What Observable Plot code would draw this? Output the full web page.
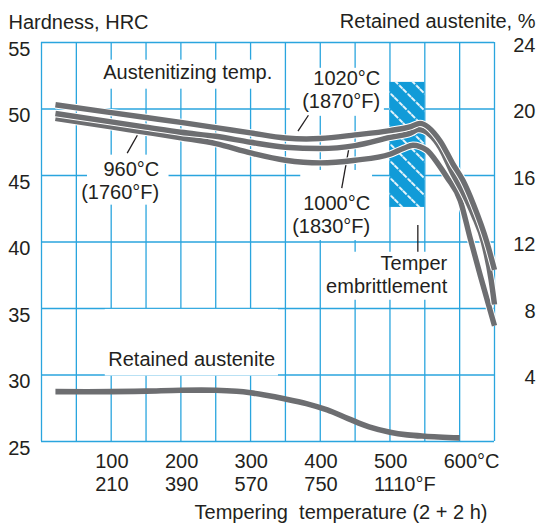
<!DOCTYPE html>
<html><head><meta charset="utf-8">
<script src="https://cdn.jsdelivr.net/npm/d3@7"></script>
<script src="https://cdn.jsdelivr.net/npm/@observablehq/plot@0.6"></script>
<style>html,body{margin:0;padding:0;background:#fff} svg{display:block}</style>
</head><body><div id="chart"></div>
<script>
// ---- data (temperature °C, hardness HRC, retained austenite %) ----
const temps1020 = [20, 100, 150, 200, 250, 300, 350, 380, 400, 450, 500, 530, 543, 572, 590, 605, 620, 639, 650];
const hrc1020   = [50.32, 49.73, 49.36, 48.99, 48.6, 48.2, 47.82, 47.75, 47.78, 48.05, 48.38, 48.68, 48.92, 47.6, 45.9, 44.6, 42.8, 40.0, 37.9];
const temps1000 = [20, 100, 150, 200, 250, 300, 350, 400, 450, 500, 530, 541, 572, 590, 605, 620, 634, 645, 650];
const hrc1000   = [49.66, 49.03, 48.64, 48.25, 47.95, 47.5, 47.12, 47.03, 47.25, 47.86, 48.2, 48.45, 47.1, 45.15, 43.7, 42.0, 40.0, 37.2, 35.3];
const temps960  = [20, 100, 150, 200, 250, 300, 350, 400, 450, 500, 520, 533, 553, 570, 582, 601, 615, 630, 650];
const hrc960    = [49.3, 48.65, 48.25, 47.84, 47.4, 46.7, 46.15, 45.95, 46.15, 46.6, 47.05, 47.28, 46.9, 45.8, 44.85, 43.1, 40.3, 37.4, 33.7];
const raTemps   = [20, 100, 150, 200, 250, 280, 300, 320, 350, 380, 410, 440, 470, 500, 525, 550, 600];
const raValues  = [3.0, 3.0, 3.03, 3.08, 3.08, 3.02, 2.93, 2.8, 2.56, 2.28, 1.9, 1.38, 0.88, 0.56, 0.4, 0.32, 0.22];

const hrcTicks = [25, 30, 35, 40, 45, 50, 55];
const raTicks = [4, 8, 12, 16, 20, 24];
const gridTemps = [0, 50, 100, 150, 200, 250, 300, 350, 400, 450, 500, 550, 600, 650];
const cTickValues = [100, 200, 300, 400, 500, 600];
const cTickLabels = ["100", "200", "300", "400", "500", "600°C"];
const fTickValues = [100, 200, 300, 400, 500];
const fTickLabels = ["210", "390", "570", "750", "1110°F"];
const embrittlement = [{t0: 500, t1: 550, h0: 42.6, h1: 52.0}];

// annotation layout (data units)
const labelsEnd = [
  {x: 486, y: 50.06, text: "1020°C\n(1870°F)"},
  {x: 168.9, y: 43.24, text: "960°C\n(1760°F)"},
  {x: 471.6, y: 40.66, text: "1000°C\n(1830°F)"},
  {x: 582.2, y: 36.15, text: "Temper\nembrittlement"}
];
const labelsStart = [
  {x: 88.6, y: 52.27, text: "Austenitizing temp."},
  {x: 95.8, y: 30.66, text: "Retained austenite"}
];
const labelBoxes = [
  {x1: 81, x2: 343, y1: 51.49, y2: 53.67},
  {x1: 357, x2: 492, y1: 49.45, y2: 53.06},
  {x1: 66, x2: 183, y1: 42.77, y2: 46.53},
  {x1: 372, x2: 475, y1: 40.11, y2: 45.38},
  {x1: 403, x2: 589, y1: 35.62, y2: 39.23},
  {x1: 91.5, x2: 340, y1: 29.92, y2: 34.93}
];
const pointers = [
  {x1: 383, y1: 49.53, x2: 368, y2: 48.33},
  {x1: 137.5, y1: 48.03, x2: 123, y2: 46.68},
  {x1: 441, y1: 47.04, x2: 430.8, y2: 44.05},
  {x1: 540, y1: 41.27, x2: 540, y2: 39.26}
];

const raToHrc = v => 25 + v * 30 / 24;
const series = [
  {t: temps960, h: hrc960},
  {t: temps1000, h: hrc1000},
  {t: temps1020, h: hrc1020}
];
const gridBlue = "#2aa5de";
const ink = "#231f20";
const gray = "#6d6e71";
const font = "'Liberation Sans', Arial, Helvetica, sans-serif";
const fs = 20;

const curveMarks = [];
for (const s of series) {
  const pts = s.t.map((t, i) => ({t, h: s.h[i]}));
  curveMarks.push(Plot.line(pts, {x: "t", y: "h", stroke: "white", strokeWidth: 7.4, curve: "monotone-x", strokeLinecap: "butt"}));
  curveMarks.push(Plot.line(pts, {x: "t", y: "h", stroke: gray, strokeWidth: 5.4, curve: "monotone-x", strokeLinecap: "butt"}));
}
const raPts = raTemps.map((t, i) => ({t, h: raToHrc(raValues[i])}));

const chart = Plot.plot({
  width: 536, height: 529,
  marginLeft: 41, marginRight: 42, marginTop: 42, marginBottom: 88,
  x: {domain: [0, 650], axis: null},
  y: {domain: [25, 55], axis: null},
  style: {fontFamily: font, fontSize: fs + "px", color: ink, background: "white"},
  marks: [
    Plot.ruleX(gridTemps, {x: d => d, stroke: gridBlue, strokeWidth: 1.3}),
    Plot.ruleY(hrcTicks, {y: d => d, stroke: gridBlue, strokeWidth: 1.3}),
    Plot.rect(labelBoxes, {x1: "x1", x2: "x2", y1: "y1", y2: "y2", fill: "white"}),
    Plot.rect(embrittlement, {x1: "t0", x2: "t1", y1: "h0", y2: "h1", fill: "#119bd8"}),
    Plot.rect(embrittlement, {x1: "t0", x2: "t1", y1: "h0", y2: "h1", fill: "#fefefe"}),
    Plot.link(pointers, {x1: "x1", y1: "y1", x2: "x2", y2: "y2", stroke: ink, strokeWidth: 1.3}),
    Plot.line(raPts, {x: "t", y: "h", stroke: gray, strokeWidth: 5.6, curve: "catmull-rom", strokeLinecap: "butt"}),
    ...curveMarks,
    Plot.text(labelsEnd, {x: "x", y: "y", text: "text", textAnchor: "end", lineAnchor: "bottom", lineHeight: 1.15, fontSize: fs, fill: ink}),
    Plot.text(labelsStart, {x: "x", y: "y", text: "text", textAnchor: "start", lineAnchor: "bottom", fontSize: fs, fill: ink}),
    // left tick labels
    Plot.text(hrcTicks, {y: d => d, text: d => String(d), frameAnchor: "left", textAnchor: "end", dx: -11, dy: 7, fontSize: fs, fill: ink}),
    // right tick labels
    Plot.text(raTicks, {y: d => raToHrc(d), text: d => String(d), frameAnchor: "right", textAnchor: "end", dx: 41, dy: 3, fontSize: fs, fill: ink}),
    // bottom tick labels
    Plot.text(cTickValues, {x: d => d, text: (d, i) => cTickLabels[i], frameAnchor: "bottom", textAnchor: "start", lineAnchor: "bottom", dx: -16, dy: 26, fontSize: fs, fill: ink}),
    Plot.text(fTickValues, {x: d => d, text: (d, i) => fTickLabels[i], frameAnchor: "bottom", textAnchor: "start", lineAnchor: "bottom", dx: -16, dy: 49, fontSize: fs, fill: ink}),
    // axis titles
    Plot.text(["Hardness, HRC"], {text: d => d, frameAnchor: "top-left", textAnchor: "start", lineAnchor: "bottom", dx: -33, dy: -14, fontSize: fs, fill: ink}),
    Plot.text(["Retained austenite, %"], {text: d => d, frameAnchor: "top-right", textAnchor: "end", lineAnchor: "bottom", dx: 41, dy: -15, fontSize: fs, fill: ink}),
    Plot.text(["Tempering\u00a0 temperature (2 + 2 h)"], {text: d => d, frameAnchor: "bottom-right", textAnchor: "end", lineAnchor: "bottom", dx: -7, dy: 77, fontSize: fs, fill: ink})
  ]
});

// hatch pattern for the temper-embrittlement band
const svg = d3.select(chart);
const defs = svg.insert("defs", ":first-child");
const pat = defs.append("pattern").attr("id", "hatch").attr("patternUnits", "userSpaceOnUse")
  .attr("width", 12).attr("height", 12).attr("patternTransform", "rotate(45)");
pat.append("line").attr("x1", 0).attr("y1", 6).attr("x2", 12).attr("y2", 6)
  .attr("stroke", "white").attr("stroke-opacity", 0.9).attr("stroke-width", 2).attr("stroke-dasharray", "5 1.5");
svg.selectAll("[fill='#fefefe']").attr("fill", "url(#hatch)");

document.getElementById("chart").appendChild(chart);
</script>
</body></html>
